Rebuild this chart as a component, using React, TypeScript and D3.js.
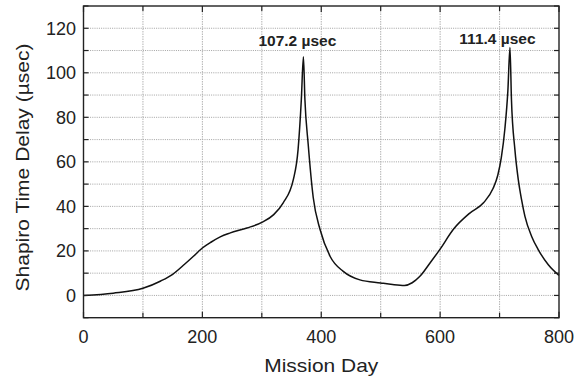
import * as d3 from 'd3';

interface Pt {
  day: number;
  delay: number;
}

// Shapiro delay (mission day, µsec)
const DAYS = [
  0, 50, 100, 130, 150, 170, 185, 200, 215, 230, 246, 275, 300, 320, 336, 353, 361, 366.5, 370,
  372.5, 378, 386.5, 398, 415, 437, 465, 500, 520, 540, 553, 566, 583, 600, 622, 650, 673, 689,
  697, 703, 709, 714, 717.5, 720, 725.8, 731.5, 737, 742.7, 754, 765, 782, 800,
];
const DELAYS = [
  0, 1.0, 3.2, 6.5, 9.5, 14, 17.6, 21.3, 24, 26.3, 28, 30.3, 32.8, 36.3, 41.6, 52, 65.5, 88, 107.2,
  88, 68, 44, 29.6, 17.5, 10.8, 7, 5.6, 4.9, 4.5, 5.7, 8.6, 14.6, 20.8, 29.6, 37, 41.6, 48,
  54, 62, 75, 92, 111.4, 88, 65.5, 52, 43, 35.5, 26.5, 20.6, 13.8, 9,
];

const PEAKS = [
  { day: 370, delay: 107.2, dx: -6, dy: -10.5 },
  { day: 717.5, delay: 111.4, dx: -12.5, dy: -3.5 },
];

const X_TICKS = [0, 200, 400, 600, 800];
const X_MINOR = [100, 300, 500, 700];
const Y_TICKS = [0, 20, 40, 60, 80, 100, 120];
const Y_MINOR = [-10, 10, 30, 50, 70, 90, 110, 130];

const W = 586;
const H = 378;
const margin = { top: 6, right: 27, bottom: 60.3, left: 83.5 };
const FONT = '"Liberation Sans", Arial, Helvetica, sans-serif';
const INK = '#222';

export default function App() {
  const data: Pt[] = DAYS.map((day, i) => ({ day, delay: DELAYS[i] }));
  const innerW = W - margin.left - margin.right;
  const innerH = H - margin.top - margin.bottom;

  const x = d3.scaleLinear().domain([0, 800]).range([0, innerW]);
  const y = d3.scaleLinear().domain([-10, 130]).range([innerH, 0]);

  const line = d3.line<Pt>()
    .x(d => x(d.day))
    .y(d => y(d.delay))
    .curve(d3.curveMonotoneX);

  const allX = [...X_TICKS, ...X_MINOR];
  const allY = [...Y_TICKS, ...Y_MINOR];

  return (
    <svg width={W} height={H} style={{ position: 'absolute', left: 0, top: 0 }}>
      <rect width={W} height={H} fill="#fff" />
      <g transform={`translate(${margin.left},${margin.top})`}>
        {/* Grid */}
        {allY.filter(t => t > -10 && t < 130).map(t => (
          <line key={`gy${t}`} x1={0} x2={innerW} y1={y(t)} y2={y(t)}
            stroke="#8a8a8a" strokeWidth={0.8} strokeDasharray="1 1.2" />
        ))}
        {allX.filter(t => t > 0 && t < 800).map(t => (
          <line key={`gx${t}`} x1={x(t)} x2={x(t)} y1={0} y2={innerH}
            stroke="#aaa" strokeWidth={0.9} strokeDasharray="1.5 1" />
        ))}

        {/* Curve */}
        <path d={line(data) ?? ''} fill="none" stroke="#111" strokeWidth={1.5}
          strokeLinejoin="round" />

        {/* Peak annotations */}
        {PEAKS.map(p => (
          <text key={p.day} x={x(p.day) + p.dx} y={y(p.delay) + p.dy}
            textAnchor="middle" fontFamily={FONT} fontSize={15.5} fontWeight={700} fill={INK}>
            {p.delay.toFixed(1)} µsec
          </text>
        ))}

        {/* Frame */}
        <rect x={0} y={0} width={innerW} height={innerH} fill="none" stroke={INK} strokeWidth={1.4} />

        {/* Ticks */}
        {allY.map(t => (
          <g key={`ty${t}`}>
            <line x1={0} x2={5} y1={y(t)} y2={y(t)} stroke={INK} strokeWidth={1.2} />
            <line x1={innerW - 5} x2={innerW} y1={y(t)} y2={y(t)} stroke={INK} strokeWidth={1.2} />
          </g>
        ))}
        {allX.map(t => (
          <g key={`tx${t}`}>
            <line x1={x(t)} x2={x(t)} y1={innerH} y2={innerH - (X_TICKS.includes(t) ? 6 : 5)} stroke={INK} strokeWidth={1.2} />
            <line x1={x(t)} x2={x(t)} y1={0} y2={X_TICKS.includes(t) ? 6 : 5} stroke={INK} strokeWidth={1.2} />
          </g>
        ))}

        {/* Tick labels */}
        {Y_TICKS.map(t => (
          <text key={`ly${t}`} x={-7.5} y={y(t)} dy="0.36em" textAnchor="end"
            fontFamily={FONT} fontSize={18} fill={INK}>
            {t}
          </text>
        ))}
        {X_TICKS.map(t => (
          <text key={`lx${t}`} x={x(t)} y={innerH + 25} textAnchor="middle"
            fontFamily={FONT} fontSize={18} fill={INK}>
            {t}
          </text>
        ))}

        {/* Axis titles */}
        <text x={innerW / 2} y={innerH + 54} textAnchor="middle"
          fontFamily={FONT} fontSize={19} fill={INK}
          textLength={114} lengthAdjust="spacingAndGlyphs">
          Mission Day
        </text>
        <text transform={`translate(${28.5 - margin.left},${167.5 - margin.top}) rotate(-90)`}
          textAnchor="middle" fontFamily={FONT} fontSize={18} fill={INK}
          textLength={248} lengthAdjust="spacingAndGlyphs">
          Shapiro Time Delay (µsec)
        </text>
      </g>
    </svg>
  );
}
